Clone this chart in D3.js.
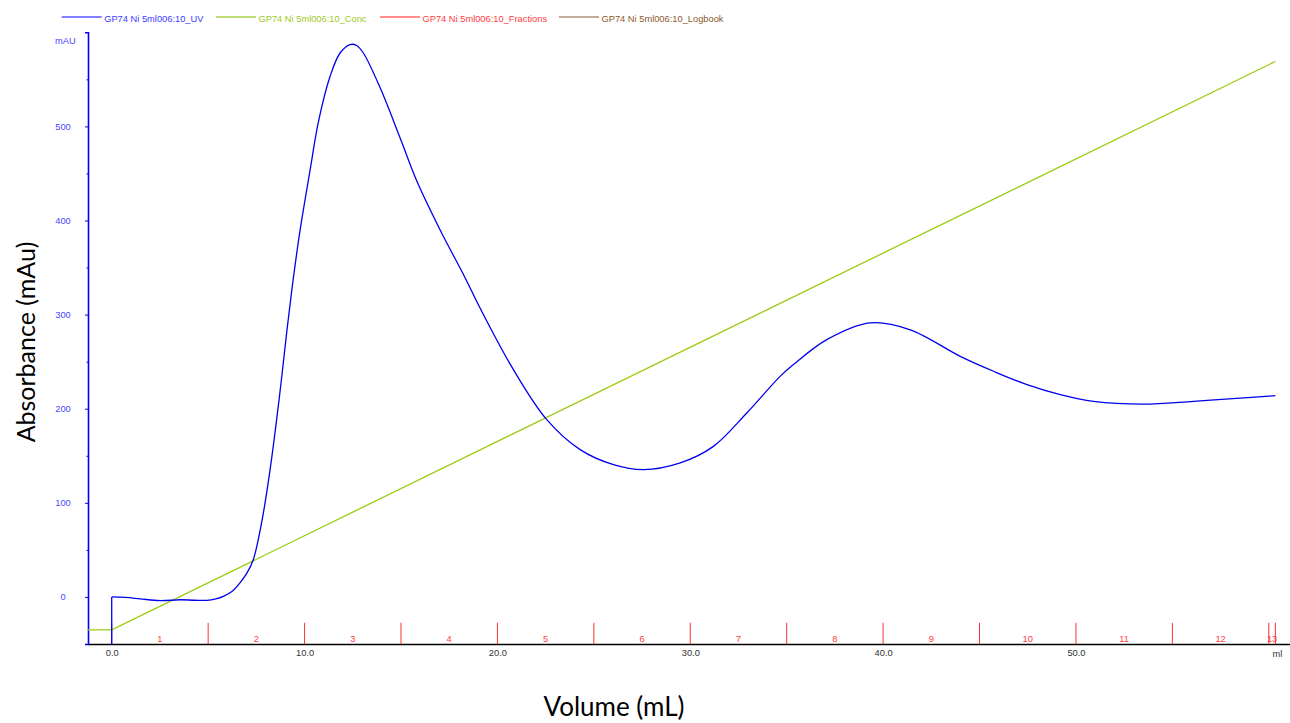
<!DOCTYPE html>
<html><head><meta charset="utf-8">
<script src="https://cdn.jsdelivr.net/npm/d3@7"></script>
<style>body{margin:0;background:#fff;} svg{display:block;}</style>
</head><body>
<svg id="c" width="1290" height="723"></svg>
<script>
// ---- data ----
const uvVolume = [0,0,0.7,1.47,2.5,3.54,4.3,4.93,5.4,5.79,6.25,6.65,7.0,7.34,7.8,8.21,8.68,9.09,9.42,9.77,10.29,10.72,11.32,11.84,12.36,12.7,13.05,13.92,14.95,15.82,17.03,18.33,19.1,20.83,22.56,24.29,26.02,27.57,29.48,31.2,32.93,34.66,35.35,37.08,39.33,41.41,44,45.73,47.46,49.19,50.91,53.5,56.1,58.7,60.34];
const uvValues = [-50,0,-0.5,-2,-4,-3,-3.5,-3.6,-2,0.7,6,15,25,39.6,82,135,210,284,339,390,454,505,553,578,587,586,578,541,488,442,390,339,307,241.5,188.4,156.5,140.5,135.2,142.4,160,195.5,234.4,246.9,273.4,291.2,283.9,255.7,239.8,225.6,215,207.9,205,207.9,211.5,213.9];
const concVolume = [-1.23,0,60.34];
const concValues = [0,0,100];
const fractionBounds = [0,5,10,15,20,25,30,35,40,45,50,55,60,60.34];
const fractionLabels = ["1","2","3","4","5","6","7","8","9","10","11","12","13"];
const yMajorTicks = [0,100,200,300,400,500];
const yMinorTicks = [50,150,250,350,450,550];
const xTicks = [0,10,20,30,40,50];
const legendNames = ["GP74 Ni 5ml006:10_UV","GP74 Ni 5ml006:10_Conc","GP74 Ni 5ml006:10_Fractions","GP74 Ni 5ml006:10_Logbook"];
const legendColors = ["#3b3bff","#9ccc1c","#ff3b3b","#8b5a2b"];
const legendLineColors = ["#5555ff","#a8d048","#ff6666","#b09078"];

// ---- layout ----
const svg = d3.select("#c");
const F = "'Liberation Sans', Arial, sans-serif";
const x = d3.scaleLinear().domain([-1.23, 61.1]).range([88, 1290]);
const y = d3.scaleLinear().domain([-50, 600]).range([644, 32.3]);
const yConc = d3.scaleLinear().domain([0,100]).range([y(-35), y(569)]);

// y axis
const yAxis = svg.append("g").attr("transform","translate(88,0)")
  .call(d3.axisLeft(y).tickValues(yMajorTicks).tickSize(3).tickPadding(17));
yAxis.select(".domain").attr("stroke","#0000ff").attr("stroke-width",1.6);
yAxis.selectAll(".tick line").attr("stroke","#0000ff");
yAxis.selectAll(".tick text").attr("fill","#4848ff").attr("font-family",F).attr("font-size",9.3)
  .attr("text-anchor","middle").attr("x",-25);
const yMinor = svg.append("g").attr("transform","translate(88,0)")
  .call(d3.axisLeft(y).tickValues(yMinorTicks).tickSize(1.5).tickFormat(""));
yMinor.select(".domain").remove();
yMinor.selectAll(".tick line").attr("stroke","#0000ff");
svg.append("text").attr("x",55).attr("y",43.5).attr("font-family",F).attr("font-size",9.3)
  .attr("fill","#4848ff").text("mAU");

// x axis
const xAxis = svg.append("g").attr("transform","translate(0,644)")
  .call(d3.axisBottom(x).tickValues(xTicks).tickSize(0).tickPadding(5).tickFormat(d3.format(".1f")));
xAxis.select(".domain").attr("stroke","#000").attr("stroke-width",1.3);
xAxis.selectAll(".tick text").attr("fill","#333").attr("font-family",F).attr("font-size",9.3);
svg.append("text").attr("x",x(60.45)).attr("y",656.5).attr("text-anchor","middle")
  .attr("font-family",F).attr("font-size",9.3).attr("fill","#333").text("ml");

// fractions
svg.append("g").selectAll("line").data(fractionBounds).join("line")
  .attr("x1",d=>x(d)).attr("x2",d=>x(d)).attr("y1",y(-27.5)).attr("y2",y(-50))
  .attr("stroke","#ff3030").attr("stroke-width",1);
svg.append("g").selectAll("text").data(fractionLabels).join("text")
  .attr("x",(d,i)=>x((fractionBounds[i]+fractionBounds[i+1])/2)).attr("y",642)
  .attr("text-anchor","middle").attr("font-family",F).attr("font-size",9.3)
  .attr("fill","#ff3b3b").text(d=>d);

// conc line
const concPts = concVolume.map((v,i)=>[v,concValues[i]]);
svg.append("path").datum(concPts)
  .attr("d", d3.line().x(d=>x(d[0])).y(d=>yConc(d[1])))
  .attr("fill","none").attr("stroke","#99cc11").attr("stroke-width",1.3);

// UV line
const uvPts = uvVolume.map((v,i)=>[v,uvValues[i]]);
svg.append("path").datum(uvPts.slice(0,2))
  .attr("d", d3.line().x(d=>x(d[0])).y(d=>y(d[1])))
  .attr("fill","none").attr("stroke","#0000ee").attr("stroke-width",1.3);
svg.append("path").datum(uvPts.slice(1))
  .attr("d", d3.line().curve(d3.curveCatmullRom.alpha(0.5)).x(d=>x(d[0])).y(d=>y(d[1])))
  .attr("fill","none").attr("stroke","#0000ee").attr("stroke-width",1.3);

// legend
const legendLineX = [61.7,216,380,559];
const lg = svg.append("g");
legendNames.forEach((n,i)=>{
  lg.append("line").attr("x1",legendLineX[i]).attr("x2",legendLineX[i]+40)
    .attr("y1",17).attr("y2",17).attr("stroke",legendLineColors[i]).attr("stroke-width",1.5);
  lg.append("text").attr("x",legendLineX[i]+42.5).attr("y",22.2)
    .attr("font-family",F).attr("font-size",9.3).attr("fill",legendColors[i]).text(n);
});

// axis titles
svg.append("text").attr("transform","translate(35,342) rotate(-90)").attr("text-anchor","middle")
  .attr("font-family","Lato, 'Open Sans', sans-serif").attr("font-size",25).attr("fill","#000")
  .text("Absorbance (mAu)");
svg.append("text").attr("x",614).attr("y",716).attr("text-anchor","middle")
  .attr("font-family","Lato, 'Open Sans', sans-serif").attr("font-size",26).attr("fill","#000")
  .text("Volume (mL)");
</script>
</body></html>
